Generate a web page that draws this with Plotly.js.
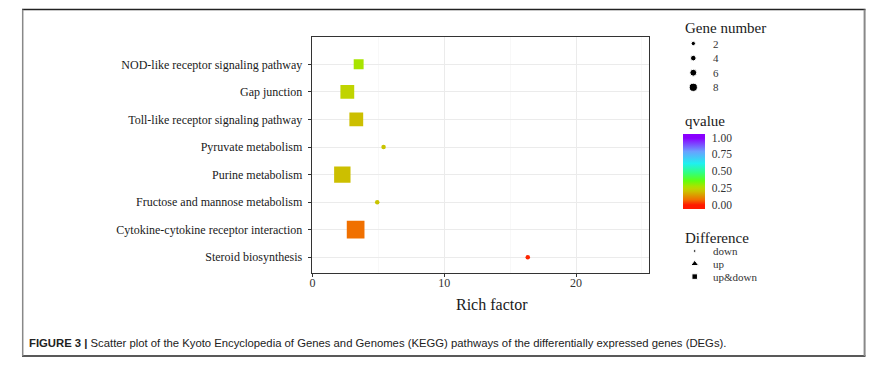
<!DOCTYPE html>
<html>
<head>
<meta charset="utf-8">
<script src="https://cdn.plot.ly/plotly-3.0.1.min.js"></script>
<style>html,body{margin:0;padding:0;background:#fff;}#chart{width:890px;height:374px;}</style>
</head>
<body>
<div id="chart"></div>
<script>
// ---- data ----
const pathways = ['NOD-like receptor signaling pathway','Gap junction','Toll-like receptor signaling pathway','Pyruvate metabolism','Purine metabolism','Fructose and mannose metabolism','Cytokine-cytokine receptor interaction','Steroid biosynthesis'];
const richFactor = [3.51, 2.65, 3.33, 5.40, 2.27, 4.92, 3.28, 16.34];
const qvalue = [0.28, 0.24, 0.20, 0.21, 0.20, 0.21, 0.08, 0.01];
const geneNumber = [3, 6, 6, 2, 8, 2, 9, 2];
const difference = ['up&down','up&down','up&down','down','up&down','down','up&down','down'];
const xTicks = [0, 10, 20];
const xMinorTicks = [5, 15, 25];
const geneBreaks = [2, 4, 6, 8];
const qTicks = [0, 0.25, 0.5, 0.75, 1];
const qTickText = ['0.00', '0.25', '0.50', '0.75', '1.00'];
const diffLevels = ['down', 'up', 'up&down'];

// ---- styling helpers ----
const W = 890, H = 374;
const px = x => x / W, py = y => 1 - y / H;
const serif = 'Liberation Serif, Times New Roman, serif';
const sizeFn = g => 3 + 0.65 * g;
const symbolOf = {'down': 'circle', 'up': 'triangle-up', 'up&down': 'square'};
const markSize = (g, d) => d === 'down' ? 4.5 : 2 * sizeFn(g);
const cmin = -0.06, cmax = 1.06;
const qStops = [[0,'#ff1a00'],[0.08,'#f07000'],[0.2,'#ccbf00'],[0.24,'#c0d400'],[0.28,'#a8e400'],[0.36,'#60ff10'],[0.48,'#30ff80'],[0.62,'#20f0f0'],[0.8,'#6aa0ff'],[1,'#8a00ff']];
const colorscale = [[0, qStops[0][1]]].concat(qStops.map(s => [(s[0]-cmin)/(cmax-cmin), s[1]])).concat([[1, qStops[qStops.length-1][1]]]);

const main = {
  type: 'scatter', mode: 'markers',
  x: richFactor, y: pathways, xaxis: 'x', yaxis: 'y',
  marker: {
    symbol: difference.map(d => symbolOf[d]),
    size: geneNumber.map((g, i) => markSize(g, difference[i])),
    opacity: 1,
    color: qvalue, cmin: cmin, cmax: cmax, colorscale: colorscale,
    line: {width: 0},
    colorbar: {
      x: px(683), xanchor: 'left', xpad: 0,
      y: py(171.2), yanchor: 'middle', ypad: 0,
      len: 74.5, lenmode: 'pixels', thickness: 22, thicknessmode: 'pixels',
      outlinewidth: 0, tickmode: 'array', tickvals: qTicks, ticktext: qTickText,
      ticks: 'outside', ticklen: 5, tickcolor: 'rgba(0,0,0,0)', tickwidth: 1,
      tickfont: {family: serif, size: 11.5, color: '#333'}
    }
  },
  showlegend: false, hoverinfo: 'skip'
};

const geneKeys = {
  type: 'scatter', mode: 'markers', xaxis: 'x2', yaxis: 'y2',
  x: geneBreaks.map(() => 693.3), y: geneBreaks.map((g, i) => 43.5 + i * 14.6),
  marker: {symbol: 'circle', color: '#000', opacity: 1, size: geneBreaks.map(sizeFn)},
  showlegend: false, hoverinfo: 'skip'
};
const diffKeys = {
  type: 'scatter', mode: 'markers', xaxis: 'x2', yaxis: 'y2',
  x: diffLevels.map(() => 694.7), y: diffLevels.map((d, i) => 251 + i * 12.8),
  marker: {symbol: diffLevels.map(d => symbolOf[d]), color: '#000', opacity: 1, size: [2.5, 7, 5.5]},
  showlegend: false, hoverinfo: 'skip'
};

const ann = [];
const addText = (t, x, y, size, opts) => ann.push(Object.assign({text: t, x: px(x), y: py(y), xref: 'paper', yref: 'paper', xanchor: 'left', yanchor: 'middle', showarrow: false, font: {family: serif, size: size, color: '#1a1a1a'}}, opts || {}));
addText('Gene number', 683, 28.3, 15);
geneBreaks.forEach((g, i) => addText(String(g), 710.5, 43.5 + i * 14.6, 11, {font: {family: serif, size: 11, color: '#333'}}));
addText('qvalue', 683, 121, 15);
addText('Difference', 683, 237.7, 15);
diffLevels.forEach((d, i) => addText(d, 710.5, 251 + i * 12.8, 11, {font: {family: serif, size: 11, color: '#333'}}));
addText('Rich factor', 492.3, 304.5, 16, {xanchor: 'center'});
addText('<b>FIGURE 3 |</b> Scatter plot of the Kyoto Encyclopedia of Genes and Genomes (KEGG) pathways of the differentially expressed genes (DEGs).', 27, 343, 11.3, {font: {family: 'Liberation Sans, Arial, sans-serif', size: 11.3, color: '#222'}});

const frame = [
  {type: 'line', xref: 'paper', yref: 'paper', x0: px(22), x1: px(865.5), y0: py(9.6), y1: py(9.6), line: {color: '#222', width: 1.5}},
  {type: 'line', xref: 'paper', yref: 'paper', x0: px(22), x1: px(865.5), y0: py(356), y1: py(356), line: {color: '#222', width: 1.5}},
  {type: 'line', xref: 'paper', yref: 'paper', x0: px(22.7), x1: px(22.7), y0: py(9.6), y1: py(356), line: {color: '#888', width: 1.5}},
  {type: 'line', xref: 'paper', yref: 'paper', x0: px(864.6), x1: px(864.6), y0: py(9.6), y1: py(356), line: {color: '#888', width: 2}}
];

const layout = {
  width: W, height: H,
  margin: {l: 0, r: 0, t: 0, b: 0, pad: 0},
  paper_bgcolor: '#fff', plot_bgcolor: 'rgba(0,0,0,0)',
  showlegend: false,
  xaxis: {
    domain: [px(312), px(648.5)], range: [-0.03, 25.5], anchor: 'y',
    tickmode: 'array', tickvals: xTicks,
    showgrid: true, gridcolor: '#ebebeb', gridwidth: 1,
    minor: {tickmode: 'array', tickvals: xMinorTicks, showgrid: true, gridcolor: '#f3f3f3', gridwidth: 0.6, ticks: ''},
    zeroline: false, showline: true, linecolor: '#333', linewidth: 1.3, mirror: true,
    ticks: 'outside', ticklen: 3, tickcolor: '#333', tickwidth: 1, ticklabelstandoff: -5,
    tickfont: {family: serif, size: 12, color: '#333'}, automargin: false
  },
  yaxis: {
    domain: [py(273), py(37.3)], anchor: 'x', type: 'category',
    categoryorder: 'array', categoryarray: pathways.slice().reverse(),
    range: [-0.57, 7.98],
    showgrid: true, gridcolor: '#ebebeb', gridwidth: 1,
    zeroline: false, showline: true, linecolor: '#333', linewidth: 1.3, mirror: true,
    ticks: 'outside', ticklen: 3, tickcolor: '#333', tickwidth: 1, ticklabelstandoff: 3,
    tickfont: {family: serif, size: 12, color: '#1a1a1a'}, automargin: false
  },
  xaxis2: {domain: [0, 1], range: [0, W], anchor: 'y2', visible: false, fixedrange: true},
  yaxis2: {domain: [0, 1], range: [H, 0], anchor: 'x2', visible: false, fixedrange: true},
  annotations: ann,
  shapes: frame
};

Plotly.newPlot('chart', [main, geneKeys, diffKeys], layout, {staticPlot: true, displayModeBar: false});
</script>
</body>
</html>
